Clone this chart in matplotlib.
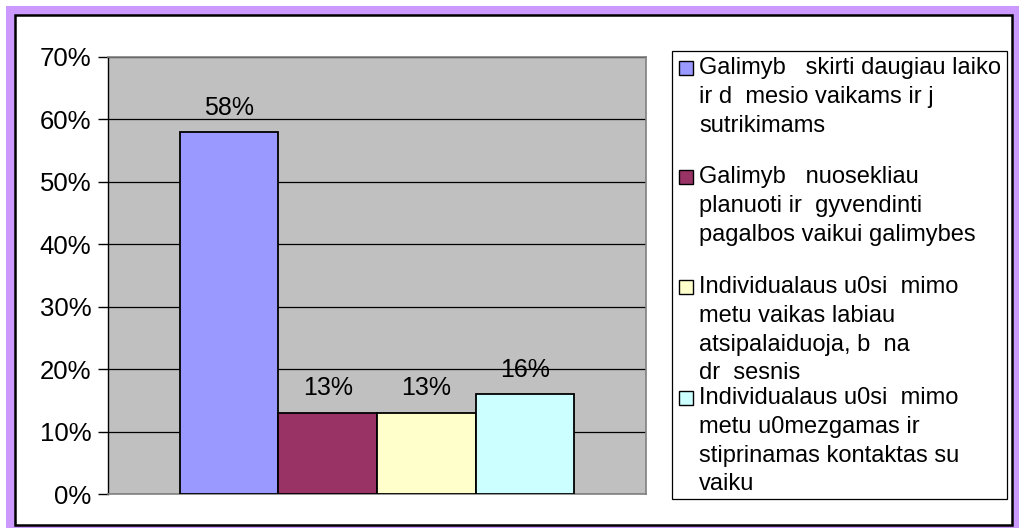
import numpy as np
import matplotlib
matplotlib.use("Agg")
import matplotlib.pyplot as plt
from matplotlib.patches import Rectangle

plt.rcParams['font.family'] = ['Liberation Sans', 'DejaVu Sans']

# duomenys
reiksmes = [58, 13, 13, 16]
spalvos = ['#9999FF', '#993366', '#FFFFCC', '#CCFFFF']
etiketes = [
    "Galimyb   skirti daugiau laiko\nir d  mesio vaikams ir j\nsutrikimams",
    "Galimyb   nuosekliau\nplanuoti ir  gyvendinti\npagalbos vaikui galimybes",
    "Individualaus u0si  mimo\nmetu vaikas labiau\natsipalaiduoja, b  na\ndr  sesnis",
    "Individualaus u0si  mimo\nmetu u0mezgamas ir\nstiprinamas kontaktas su\nvaiku",
]
yticks = [0, 10, 20, 30, 40, 50, 60, 70]

W, H = 1019, 528
fig = plt.figure(figsize=(W / 100, H / 100), dpi=100)
fig.patch.set_facecolor('white')

def fx(px):
    return px / W

def fy(py):
    return 1 - py / H

# remelis
fig.patches.append(Rectangle((fx(6), 0), 1 - fx(6), fy(6), transform=fig.transFigure,
                             facecolor='#CC99FF', edgecolor='none', zorder=-2))
fig.patches.append(Rectangle((fx(15), fy(525)), fx(1012) - fx(15), fy(15) - fy(525),
                             transform=fig.transFigure, facecolor='white',
                             edgecolor='black', linewidth=1.8, zorder=-1))

ax = fig.add_axes([fx(108), fy(494), fx(646) - fx(108), fy(57) - fy(494)])
ax.set_facecolor('#C0C0C0')

x = np.arange(len(reiksmes))
ax.bar(x, reiksmes, width=1.0, color=spalvos, edgecolor='black', linewidth=1.3, zorder=3)
for xi, v in zip(x, reiksmes):
    ax.text(xi, v + 3.9, f"{v}%", ha='center', va='center', fontsize=18, zorder=4)

ax.set_ylim(0, 70)
ax.set_xlim(-1.23, 4.23)
ax.set_yticks(yticks)
ax.set_yticklabels([f"{t}%" for t in yticks], fontsize=18.5)
ax.set_xticks([])
ax.yaxis.grid(True, color='black', linewidth=0.9, zorder=1)
ax.set_axisbelow(True)
ax.tick_params(axis='y', length=7, width=1, color='black', pad=5)
ax.spines['left'].set_color('black')
ax.spines['left'].set_linewidth(1)
for s in ['top', 'right', 'bottom']:
    ax.spines[s].set_color('#808080')
    ax.spines[s].set_linewidth(1.2)

# legenda
fig.patches.append(Rectangle((fx(672), fy(499)), fx(1007) - fx(672), fy(51) - fy(499),
                             transform=fig.transFigure, facecolor='white',
                             edgecolor='black', linewidth=0.9))
y_pos = [68, 177, 287, 398]
for lab, c, yp in zip(etiketes, spalvos, y_pos):
    fig.patches.append(Rectangle((fx(679), fy(yp + 7)), fx(693) - fx(679), fy(yp - 7) - fy(yp + 7),
                                 transform=fig.transFigure, facecolor=c,
                                 edgecolor='black', linewidth=1.0))
    for i, eil in enumerate(lab.split("\n")):
        fig.text(fx(699), fy(yp + i * 28.8), eil, ha='left', va='center', fontsize=17)

fig.savefig('out.png', dpi=100)
